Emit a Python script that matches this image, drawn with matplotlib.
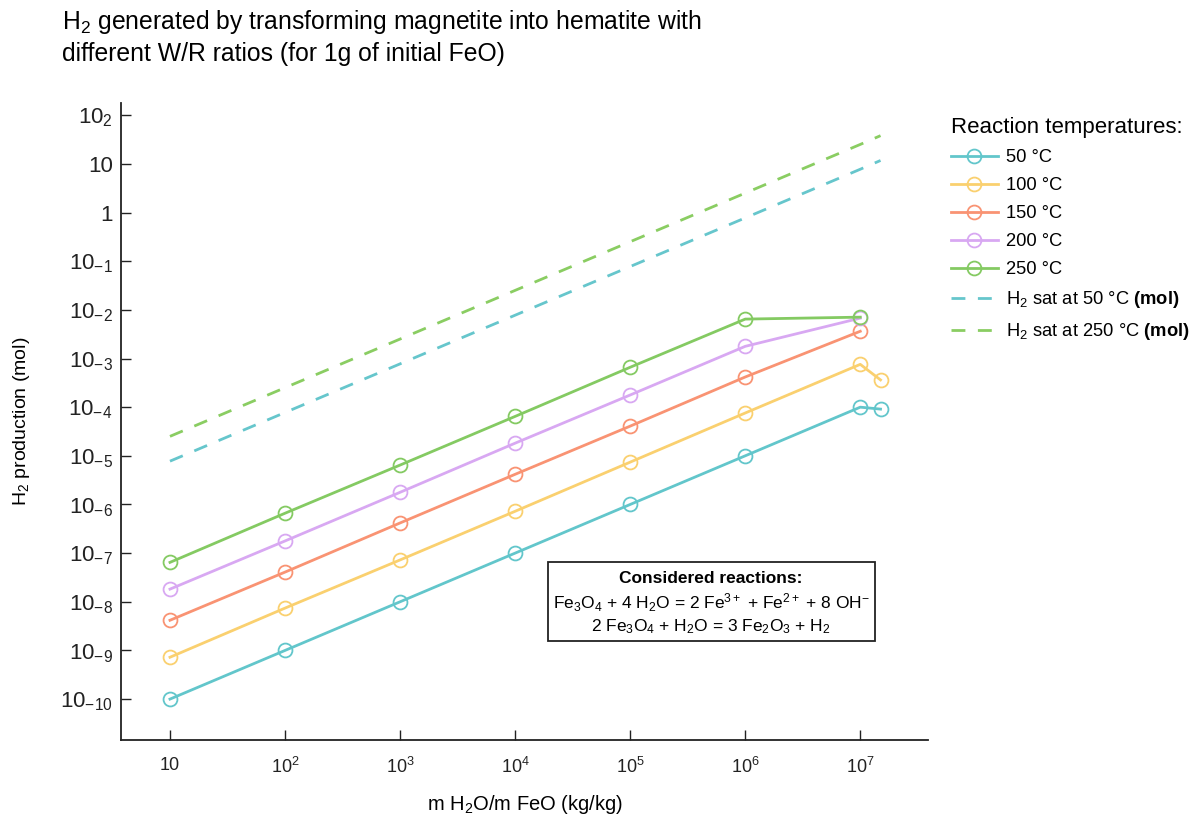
import matplotlib.pyplot as plt
import numpy as np
from matplotlib.patches import Rectangle

plt.rcParams['font.family'] = ['Liberation Sans', 'DejaVu Sans']
plt.rcParams['mathtext.fontset'] = 'custom'
plt.rcParams['mathtext.rm'] = 'Liberation Sans'
plt.rcParams['mathtext.bf'] = 'Liberation Sans:bold'
plt.rcParams['mathtext.it'] = 'Liberation Sans:italic'

# W/R ratios (kg/kg)
wr = [10, 1e2, 1e3, 1e4, 1e5, 1e6, 1e7, 1.5e7]

# H2 produced (mol), log10 values
h2_50 = [-10.0, -9.0, -8.0, -7.0, -6.0, -5.0, -4.0, -4.04]
h2_100 = [-9.14, -8.13, -7.14, -6.14, -5.13, -4.12, -3.12, -3.44]
h2_150 = [-8.38, -7.39, -6.38, -5.38, -4.39, -3.38, -2.44]
h2_200 = [-7.74, -6.75, -5.75, -4.74, -3.75, -2.75, -2.17]
h2_250 = [-7.19, -6.18, -5.19, -4.19, -3.18, -2.19, -2.15]

# H2 saturation (mol)
sat_50 = [-5.11, -4.11, -3.11, -2.11, -1.11, -0.11, 0.89, 1.07]
sat_250 = [-4.60, -3.60, -2.60, -1.60, -0.60, 0.40, 1.40, 1.58]

series = [('50 °C', h2_50, '#62c6cb'),
          ('100 °C', h2_100, '#fad06f'),
          ('150 °C', h2_150, '#f99373'),
          ('200 °C', h2_200, '#d8a8f2'),
          ('250 °C', h2_250, '#84ca62')]

ytick_vals = [2, 1, 0, -1, -2, -3, -4, -5, -6, -7, -8, -9, -10]
ytick_labels = ['$10_2$', '10', '1'] + ['$10_{−%d}$' % i for i in range(1, 11)]
xtick_vals = [10, 1e2, 1e3, 1e4, 1e5, 1e6, 1e7]
xtick_labels = ['10'] + ['$10^{%d}$' % i for i in range(2, 8)]

reactions = ['Considered reactions:',
             r'Fe$_3$O$_4$ + 4 H$_2$O = 2 Fe$^{3+}$ + Fe$^{2+}$ + 8 OH$^{-}$',
             r'2 Fe$_3$O$_4$ + H$_2$O = 3 Fe$_2$O$_3$ + H$_2$']

fig = plt.figure(figsize=(11.93, 8.18), dpi=100)
ax = fig.add_axes([0.1014, 0.0954, 0.6766, 0.7786])

for name, vals, col in series:
    ax.plot(wr[:len(vals)], 10 ** np.array(vals), color=col, lw=2,
            marker='o', ms=10, mfc='none', mew=1.3, label=name)

ax.plot(wr, 10 ** np.array(sat_50), color='#66c6cc', lw=2, ls=(0, (5, 4.5)),
        label=r'H$_2$ sat at 50 °C $\mathbf{(mol)}$')
ax.plot(wr, 10 ** np.array(sat_250), color='#8acd62', lw=2, ls=(0, (5, 4.5)),
        label=r'H$_2$ sat at 250 °C $\mathbf{(mol)}$')

ax.set_xscale('log')
ax.set_yscale('log')
ax.set_xlim(10 ** 0.574, 10 ** 7.59)
ax.set_ylim(10 ** -10.84, 10 ** 2.25)
ax.set_xticks(xtick_vals)
ax.set_xticklabels(xtick_labels)
ax.set_yticks([10.0 ** v for v in ytick_vals])
ax.set_yticklabels(ytick_labels)
ax.minorticks_off()
ax.tick_params(direction='in', length=7, width=1, colors='#222222')
ax.tick_params(axis='x', pad=12, labelsize=13)
ax.tick_params(axis='y', pad=6, labelsize=16)
for s in ['top', 'right']:
    ax.spines[s].set_visible(False)
for s in ['left', 'bottom']:
    ax.spines[s].set_linewidth(1.3)
    ax.spines[s].set_color('#222222')

ax.set_xlabel(r'm H$_2$O/m FeO (kg/kg)', fontsize=14.5, labelpad=12)
ax.set_ylabel(r'H$_2$ production (mol)', fontsize=14, labelpad=20)

fig.text(0.052, 0.99, 'H$_2$ generated by transforming magnetite into hematite with\n'
         'different W/R ratios (for 1g of initial FeO)',
         fontsize=17.8, va='top', ha='left', linespacing=1.3)

leg = ax.legend(loc='upper left', bbox_to_anchor=(1.008, 1.004), frameon=False,
                fontsize=13.2, title='Reaction temperatures:', title_fontsize=16,
                handlelength=2.55, labelspacing=0.6, alignment='left',
                handletextpad=0.45)

# reactions box
ax.add_patch(Rectangle((0.529, 0.155), 0.405, 0.124, transform=ax.transAxes,
                       fc='white', ec='#222222', lw=1.3, zorder=5))
for txt, ypos, w in zip(reactions, [0.254, 0.216, 0.178], ['bold', 'normal', 'normal']):
    ax.text(0.731, ypos, txt, transform=ax.transAxes, ha='center', va='center',
            fontsize=12.5, fontweight=w, zorder=6)

plt.savefig('out.png', dpi=100)
